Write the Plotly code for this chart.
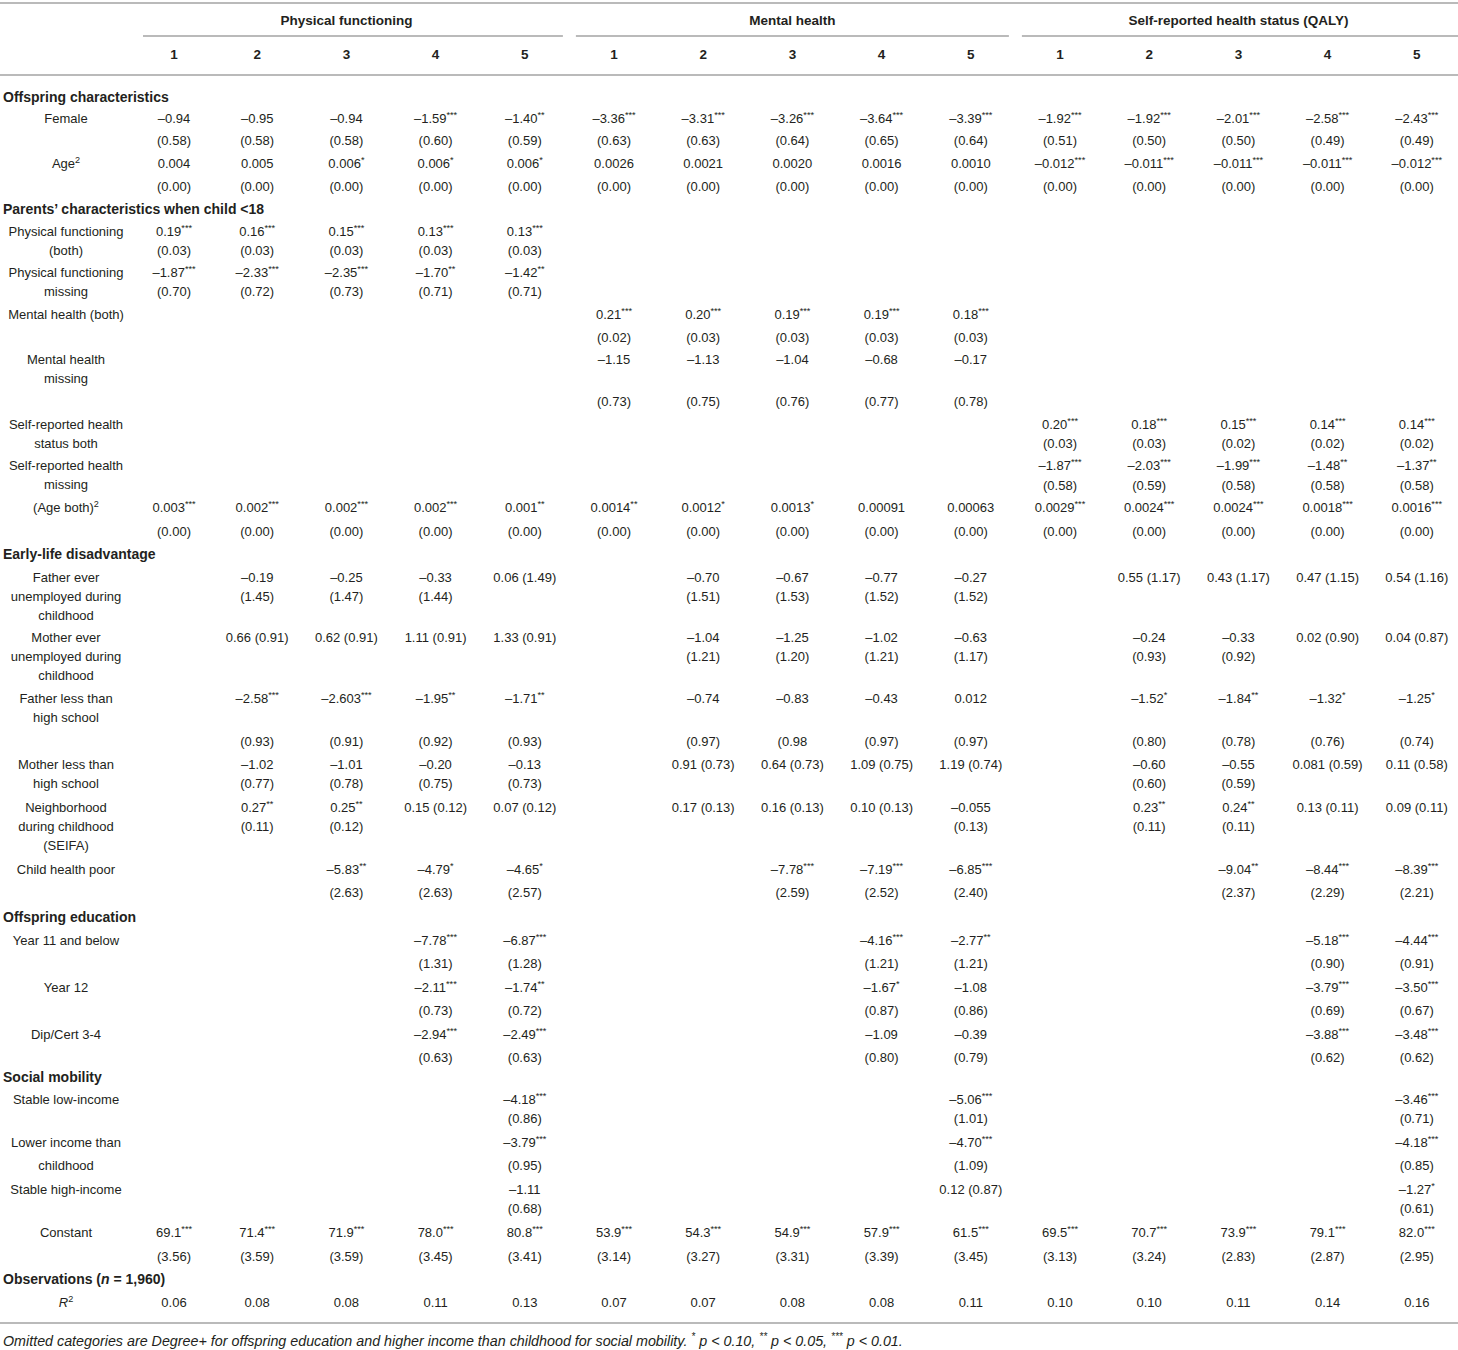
import plotly.graph_objects as go

# ---------------- data ----------------
group_titles = ["Physical functioning", "Mental health", "Self-reported health status (QALY)"]
model_numbers = ["1", "2", "3", "4", "5"]

female_coef = ["–0.94", "–0.95", "–0.94", "–1.59***", "–1.40**",
               "–3.36***", "–3.31***", "–3.26***", "–3.64***", "–3.39***",
               "–1.92***", "–1.92***", "–2.01***", "–2.58***", "–2.43***"]
female_se = ["(0.58)", "(0.58)", "(0.58)", "(0.60)", "(0.59)",
             "(0.63)", "(0.63)", "(0.64)", "(0.65)", "(0.64)",
             "(0.51)", "(0.50)", "(0.50)", "(0.49)", "(0.49)"]

age2_coef = ["0.004", "0.005", "0.006*", "0.006*", "0.006*",
             "0.0026", "0.0021", "0.0020", "0.0016", "0.0010",
             "–0.012***", "–0.011***", "–0.011***", "–0.011***", "–0.012***"]
age2_se = ["(0.00)"] * 15

pf_both_coef = ["0.19***", "0.16***", "0.15***", "0.13***", "0.13***"] + [""] * 10
pf_both_se = ["(0.03)", "(0.03)", "(0.03)", "(0.03)", "(0.03)"] + [""] * 10

pf_miss_coef = ["–1.87***", "–2.33***", "–2.35***", "–1.70**", "–1.42**"] + [""] * 10
pf_miss_se = ["(0.70)", "(0.72)", "(0.73)", "(0.71)", "(0.71)"] + [""] * 10

mh_both_coef = [""] * 5 + ["0.21***", "0.20***", "0.19***", "0.19***", "0.18***"] + [""] * 5
mh_both_se = [""] * 5 + ["(0.02)", "(0.03)", "(0.03)", "(0.03)", "(0.03)"] + [""] * 5

mh_miss_coef = [""] * 5 + ["–1.15", "–1.13", "–1.04", "–0.68", "–0.17"] + [""] * 5
mh_miss_se = [""] * 5 + ["(0.73)", "(0.75)", "(0.76)", "(0.77)", "(0.78)"] + [""] * 5

sr_both_coef = [""] * 10 + ["0.20***", "0.18***", "0.15***", "0.14***", "0.14***"]
sr_both_se = [""] * 10 + ["(0.03)", "(0.03)", "(0.02)", "(0.02)", "(0.02)"]

sr_miss_coef = [""] * 10 + ["–1.87***", "–2.03***", "–1.99***", "–1.48**", "–1.37**"]
sr_miss_se = [""] * 10 + ["(0.58)", "(0.59)", "(0.58)", "(0.58)", "(0.58)"]

agepar_coef = ["0.003***", "0.002***", "0.002***", "0.002***", "0.001**",
               "0.0014**", "0.0012*", "0.0013*", "0.00091", "0.00063",
               "0.0029***", "0.0024***", "0.0024***", "0.0018***", "0.0016***"]
agepar_se = ["(0.00)"] * 15

fath_unemp_coef = ["", "–0.19", "–0.25", "–0.33", "0.06 (1.49)",
                   "", "–0.70", "–0.67", "–0.77", "–0.27",
                   "", "0.55 (1.17)", "0.43 (1.17)", "0.47 (1.15)", "0.54 (1.16)"]
fath_unemp_se = ["", "(1.45)", "(1.47)", "(1.44)", "",
                 "", "(1.51)", "(1.53)", "(1.52)", "(1.52)",
                 "", "", "", "", ""]

moth_unemp_coef = ["", "0.66 (0.91)", "0.62 (0.91)", "1.11 (0.91)", "1.33 (0.91)",
                   "", "–1.04", "–1.25", "–1.02", "–0.63",
                   "", "–0.24", "–0.33", "0.02 (0.90)", "0.04 (0.87)"]
moth_unemp_se = ["", "", "", "", "",
                 "", "(1.21)", "(1.20)", "(1.21)", "(1.17)",
                 "", "(0.93)", "(0.92)", "", ""]

fath_school_coef = ["", "–2.58***", "–2.603***", "–1.95**", "–1.71**",
                    "", "–0.74", "–0.83", "–0.43", "0.012",
                    "", "–1.52*", "–1.84**", "–1.32*", "–1.25*"]
fath_school_se = ["", "(0.93)", "(0.91)", "(0.92)", "(0.93)",
                  "", "(0.97)", "(0.98", "(0.97)", "(0.97)",
                  "", "(0.80)", "(0.78)", "(0.76)", "(0.74)"]

moth_school_coef = ["", "–1.02", "–1.01", "–0.20", "–0.13",
                    "", "0.91 (0.73)", "0.64 (0.73)", "1.09 (0.75)", "1.19 (0.74)",
                    "", "–0.60", "–0.55", "0.081 (0.59)", "0.11 (0.58)"]
moth_school_se = ["", "(0.77)", "(0.78)", "(0.75)", "(0.73)",
                  "", "", "", "", "",
                  "", "(0.60)", "(0.59)", "", ""]

seifa_coef = ["", "0.27**", "0.25**", "0.15 (0.12)", "0.07 (0.12)",
              "", "0.17 (0.13)", "0.16 (0.13)", "0.10 (0.13)", "–0.055",
              "", "0.23**", "0.24**", "0.13 (0.11)", "0.09 (0.11)"]
seifa_se = ["", "(0.11)", "(0.12)", "", "",
            "", "", "", "", "(0.13)",
            "", "(0.11)", "(0.11)", "", ""]

child_health_coef = ["", "", "–5.83**", "–4.79*", "–4.65*",
                     "", "", "–7.78***", "–7.19***", "–6.85***",
                     "", "", "–9.04**", "–8.44***", "–8.39***"]
child_health_se = ["", "", "(2.63)", "(2.63)", "(2.57)",
                   "", "", "(2.59)", "(2.52)", "(2.40)",
                   "", "", "(2.37)", "(2.29)", "(2.21)"]

year11_coef = ["", "", "", "–7.78***", "–6.87***",
               "", "", "", "–4.16***", "–2.77**",
               "", "", "", "–5.18***", "–4.44***"]
year11_se = ["", "", "", "(1.31)", "(1.28)",
             "", "", "", "(1.21)", "(1.21)",
             "", "", "", "(0.90)", "(0.91)"]

year12_coef = ["", "", "", "–2.11***", "–1.74**",
               "", "", "", "–1.67*", "–1.08",
               "", "", "", "–3.79***", "–3.50***"]
year12_se = ["", "", "", "(0.73)", "(0.72)",
             "", "", "", "(0.87)", "(0.86)",
             "", "", "", "(0.69)", "(0.67)"]

dip_coef = ["", "", "", "–2.94***", "–2.49***",
            "", "", "", "–1.09", "–0.39",
            "", "", "", "–3.88***", "–3.48***"]
dip_se = ["", "", "", "(0.63)", "(0.63)",
          "", "", "", "(0.80)", "(0.79)",
          "", "", "", "(0.62)", "(0.62)"]

stable_low_coef = ["", "", "", "", "–4.18***", "", "", "", "", "–5.06***", "", "", "", "", "–3.46***"]
stable_low_se = ["", "", "", "", "(0.86)", "", "", "", "", "(1.01)", "", "", "", "", "(0.71)"]

lower_inc_coef = ["", "", "", "", "–3.79***", "", "", "", "", "–4.70***", "", "", "", "", "–4.18***"]
lower_inc_se = ["", "", "", "", "(0.95)", "", "", "", "", "(1.09)", "", "", "", "", "(0.85)"]

stable_high_coef = ["", "", "", "", "–1.11", "", "", "", "", "0.12 (0.87)", "", "", "", "", "–1.27*"]
stable_high_se = ["", "", "", "", "(0.68)", "", "", "", "", "", "", "", "", "", "(0.61)"]

const_coef = ["69.1***", "71.4***", "71.9***", "78.0***", "80.8***",
              "53.9***", "54.3***", "54.9***", "57.9***", "61.5***",
              "69.5***", "70.7***", "73.9***", "79.1***", "82.0***"]
const_se = ["(3.56)", "(3.59)", "(3.59)", "(3.45)", "(3.41)",
            "(3.14)", "(3.27)", "(3.31)", "(3.39)", "(3.45)",
            "(3.13)", "(3.24)", "(2.83)", "(2.87)", "(2.95)"]

r2_values = ["0.06", "0.08", "0.08", "0.11", "0.13",
             "0.07", "0.07", "0.08", "0.08", "0.11",
             "0.10", "0.10", "0.11", "0.14", "0.16"]

footnote = ("Omitted categories are Degree+ for offspring education and higher income than "
            "childhood for social mobility. <sup>*</sup> p < 0.10, <sup>**</sup> p < 0.05, "
            "<sup>***</sup> p < 0.01.")

# rows: (kind, label lines, coefficients, standard errors)
table_rows = [
    ("section", ["Offspring characteristics"], None, None),
    ("var", ["Female"], female_coef, female_se),
    ("var", ["Age<sup>2</sup>"], age2_coef, age2_se),
    ("section", ["Parents’ characteristics when child <18"], None, None),
    ("var", ["Physical functioning", "(both)"], pf_both_coef, pf_both_se),
    ("var", ["Physical functioning", "missing"], pf_miss_coef, pf_miss_se),
    ("var", ["Mental health (both)"], mh_both_coef, mh_both_se),
    ("var", ["Mental health", "missing"], mh_miss_coef, mh_miss_se),
    ("var", ["Self-reported health", "status both"], sr_both_coef, sr_both_se),
    ("var", ["Self-reported health", "missing"], sr_miss_coef, sr_miss_se),
    ("var", ["(Age both)<sup>2</sup>"], agepar_coef, agepar_se),
    ("section", ["Early-life disadvantage"], None, None),
    ("var", ["Father ever", "unemployed during", "childhood"], fath_unemp_coef, fath_unemp_se),
    ("var", ["Mother ever", "unemployed during", "childhood"], moth_unemp_coef, moth_unemp_se),
    ("var", ["Father less than", "high school"], fath_school_coef, fath_school_se),
    ("var", ["Mother less than", "high school"], moth_school_coef, moth_school_se),
    ("var", ["Neighborhood", "during childhood", "(SEIFA)"], seifa_coef, seifa_se),
    ("var", ["Child health poor"], child_health_coef, child_health_se),
    ("section", ["Offspring education"], None, None),
    ("var", ["Year 11 and below"], year11_coef, year11_se),
    ("var", ["Year 12"], year12_coef, year12_se),
    ("var", ["Dip/Cert 3-4"], dip_coef, dip_se),
    ("section", ["Social mobility"], None, None),
    ("var", ["Stable low-income"], stable_low_coef, stable_low_se),
    ("var", ["Lower income than", "childhood"], lower_inc_coef, lower_inc_se),
    ("var", ["Stable high-income"], stable_high_coef, stable_high_se),
    ("var", ["Constant"], const_coef, const_se),
    ("section", ["Observations (<i>n</i> = 1,960)"], None, None),
    ("var", ["<i>R</i><sup>2</sup>"], r2_values, None),
]

# ---------------- layout (positions in page pixels) ----------------
# per row: (gap to next row, offset of SE line, spacing of wrapped label lines)
row_fmt = [
    (22, 0, 19), (45, 22, 19), (45, 23, 19),
    (23, 0, 19), (41, 19, 19), (42, 19, 19), (45, 23, 19), (65, 42, 19),
    (41, 19, 19), (42, 20, 19), (46, 24, 19),
    (24, 0, 19), (60, 19, 19), (61, 19, 19), (66, 43, 19), (43, 19, 19),
    (62, 19, 19), (47, 23, 19),
    (24, 0, 19), (47, 23, 19), (47, 23, 19), (42, 23, 19),
    (23, 0, 19), (43, 19, 19), (47, 23, 23), (43, 19, 19), (46, 24, 19),
    (24, 0, 19), (0, 0, 19),
]
W, H = 1458, 1350
TEXT_DY = 2              # renderer places text ~2px above the requested centre
first_row_y = 96
label_x = 66
section_x = 3
col_first_x = 174
col_x0, col_dx = 168, 89.2
group_line_start = 143
group_gap = 6.5
title_y, number_y = 20, 54
line_top_y, line_group_y, line_head_y, line_bottom_y = 3, 36, 75, 1323
footnote_y = 1340

TEXT = "#231f20"
LINE = "#a3a3a3"
FONT = "Liberation Sans"
FS = 13
FSB = 14
FSH = 13.5
FSF = 14.3

col_x = [col_first_x] + [col_x0 + col_dx * k for k in range(1, 15)]


def fmt(s):
    if not s:
        return ""
    core = s.rstrip("*")
    stars = s[len(core):]
    return core + (f"<sup>{stars}</sup>" if stars else "")


cell_x, cell_y, cell_t = [], [], []
lab_x, lab_y, lab_t = [], [], []
sec_x, sec_y, sec_t = [], [], []

y = first_row_y + TEXT_DY
for (kind, labels, coef, se), (gap, se_dy, lstep) in zip(table_rows, row_fmt):
    if kind == "section":
        sec_x.append(section_x)
        sec_y.append(y)
        sec_t.append("<b>" + labels[0] + "</b>")
    else:
        for i, lab in enumerate(labels):
            lab_x.append(label_x)
            lab_y.append(y + i * lstep)
            lab_t.append(lab)
        for k in range(15):
            if coef and coef[k]:
                cell_x.append(col_x[k]); cell_y.append(y); cell_t.append(fmt(coef[k]))
            if se and se[k]:
                cell_x.append(col_x[k]); cell_y.append(y + se_dy); cell_t.append(fmt(se[k]))
    y += gap

# header texts
head_x, head_y, head_t = [], [], []
for g, title in enumerate(group_titles):
    head_x.append(col_x[g * 5 + 2]); head_y.append(title_y + TEXT_DY)
    head_t.append("<b>" + title + "</b>")
    for j, num in enumerate(model_numbers):
        head_x.append(col_x[g * 5 + j]); head_y.append(number_y + TEXT_DY)
        head_t.append("<b>" + num + "</b>")

fig = go.Figure()
common = dict(mode="text", hoverinfo="skip", showlegend=False, cliponaxis=False)
fig.add_trace(go.Scatter(x=cell_x, y=cell_y, text=cell_t, textposition="middle center",
                         textfont=dict(family=FONT, size=FS, color=TEXT), **common))
fig.add_trace(go.Scatter(x=lab_x, y=lab_y, text=lab_t, textposition="middle center",
                         textfont=dict(family=FONT, size=FS, color=TEXT), **common))
fig.add_trace(go.Scatter(x=sec_x, y=sec_y, text=sec_t, textposition="middle right",
                         textfont=dict(family=FONT, size=FSB, color=TEXT), **common))
fig.add_trace(go.Scatter(x=head_x, y=head_y, text=head_t, textposition="middle center",
                         textfont=dict(family=FONT, size=FSH, color=TEXT), **common))
fig.add_trace(go.Scatter(x=[section_x], y=[footnote_y + TEXT_DY], text=["<i>" + footnote + "</i>"],
                         textposition="middle right",
                         textfont=dict(family=FONT, size=FSF, color=TEXT), **common))

# rules
shapes = []
for yy in (line_top_y, line_head_y, line_bottom_y):
    shapes.append(dict(type="line", xref="x", yref="y", x0=0, x1=W, y0=yy, y1=yy,
                       line=dict(color=LINE, width=1.5)))
bounds = [group_line_start,
          (col_x[4] + col_x[5]) / 2,
          (col_x[9] + col_x[10]) / 2,
          W]
for g in range(3):
    x0 = bounds[g] + (group_gap if g > 0 else 0)
    x1 = bounds[g + 1] - (group_gap if g < 2 else 0)
    shapes.append(dict(type="line", xref="x", yref="y", x0=x0, x1=x1,
                       y0=line_group_y, y1=line_group_y,
                       line=dict(color=LINE, width=1.5)))

fig.update_layout(
    width=W, height=H,
    margin=dict(l=0, r=0, t=0, b=0),
    paper_bgcolor="white", plot_bgcolor="white",
    xaxis=dict(range=[0, W], visible=False, fixedrange=True),
    yaxis=dict(range=[H, 0], visible=False, fixedrange=True),
    shapes=shapes,
)

# place the figure flush with the page corner (remove the default body margin)
fig.write_html("out.html", config={"displayModeBar": False},
               post_script="document.body.style.margin='0px';")
